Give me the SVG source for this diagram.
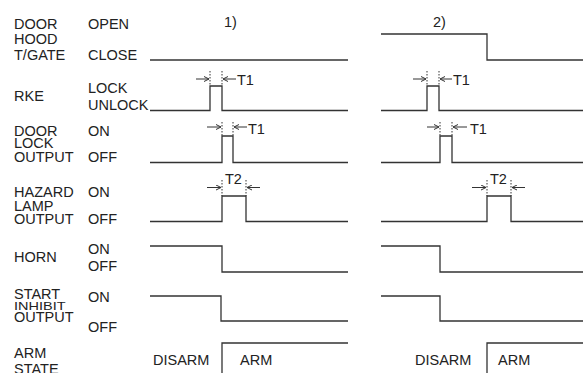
<svg xmlns="http://www.w3.org/2000/svg" width="583" height="373" viewBox="0 0 583 373">
<defs>
<marker id="ah" viewBox="0 0 6 6" refX="5.5" refY="3" markerWidth="6" markerHeight="6" markerUnits="userSpaceOnUse" orient="auto">
<path d="M0.5,0.5 L5.5,3 L0.5,5.5" fill="none" stroke="#333" stroke-width="1"/>
</marker>
<style>
text{font-family:"Liberation Sans",Arial,sans-serif;font-size:14.5px;fill:#222}
.w{fill:none;stroke:#333;stroke-width:1.3}
.d{fill:none;stroke:#333;stroke-width:1;stroke-dasharray:1.5 1.5}
.a{fill:none;stroke:#333;stroke-width:1;marker-end:url(#ah)}
</style>
</defs>
<rect width="583" height="373" fill="#fff"/>
<text x="224" y="27">1)</text>
<text x="433" y="27">2)</text>
<g id="door">
<text x="14" y="29">DOOR</text><text x="14" y="44">HOOD</text><text x="14" y="60">T/GATE</text>
<text x="88" y="29">OPEN</text><text x="88" y="60">CLOSE</text>
</g>
<g id="rke">
<text x="14" y="101">RKE</text>
<text x="88" y="93">LOCK</text><text x="88" y="110">UNLOCK</text>
<text x="237" y="85">T1</text><text x="453" y="85">T1</text>
</g>
<g id="doorlock">
<text x="14" y="136">DOOR</text><text x="14" y="148">LOCK</text><text x="14" y="162">OUTPUT</text>
<text x="88" y="136">ON</text><text x="88" y="162">OFF</text>
<text x="248" y="134">T1</text><text x="470" y="134">T1</text>
</g>
<g id="hazard">
<text x="14" y="197">HAZARD</text><text x="14" y="211">LAMP</text><text x="14" y="224">OUTPUT</text>
<text x="88" y="197">ON</text><text x="88" y="224">OFF</text>
<text x="225" y="184">T2</text><text x="490" y="184">T2</text>
</g>
<g id="horn">
<text x="14" y="262">HORN</text>
<text x="88" y="254">ON</text><text x="88" y="271">OFF</text>
</g>
<g id="startinhibit">
<text x="14" y="299">START</text>
<text transform="translate(14,310) scale(1,0.8)">INHIBIT</text>
<text x="14" y="322">OUTPUT</text>
<text x="88" y="302">ON</text><text x="88" y="332">OFF</text>
</g>
<g id="armstate">
<text x="14" y="358">ARM</text><text x="14" y="373.5">STATE</text>
<text x="153" y="365">DISARM</text><text x="240" y="365">ARM</text>
<text x="415" y="365">DISARM</text><text x="498" y="365">ARM</text>
</g>
<g id="connectors">
<polyline class="w" points="150,60 348,60"/>
<polyline class="w" points="381,34 487,34 487,60 583,60"/>
<polyline class="w" points="150,110.5 210,110.5 210,86 222,86 222,110.5 348,110.5"/>
<polyline class="w" points="381,110.5 427,110.5 427,86 439,86 439,110.5 583,110.5"/>
<polyline class="w" points="150,162.5 222,162.5 222,136 233,136 233,162.5 348,162.5"/>
<polyline class="w" points="381,162.5 440,162.5 440,136 452,136 452,162.5 583,162.5"/>
<polyline class="w" points="150,221.5 222,221.5 222,196 246,196 246,221.5 348,221.5"/>
<polyline class="w" points="381,221.5 487,221.5 487,196 511,196 511,221.5 583,221.5"/>
<polyline class="w" points="150,246 222,246 222,272 348,272"/>
<polyline class="w" points="381,246 440,246 440,272 583,272"/>
<polyline class="w" points="150,296 221,296 221,321 348,321"/>
<polyline class="w" points="381,296 440,296 440,321 583,321"/>
<polyline class="w" points="222,373 222,343 348,343"/>
<polyline class="w" points="487,373 487,343 583,343"/>
<path class="d" d="M210,71V86M222,71V86M427,71V86M439,71V86"/>
<path class="d" d="M222,122V136M233,122V136M440,122V136M452,122V136"/>
<path class="d" d="M222,180V196M246,180V196M487,180V196M511,180V196"/>
<line class="a" x1="196" y1="79" x2="209" y2="79"/><line class="a" x1="236" y1="79" x2="223" y2="79"/>
<line class="a" x1="413" y1="79" x2="426" y2="79"/><line class="a" x1="452" y1="79" x2="440" y2="79"/>
<line class="a" x1="207" y1="127" x2="221" y2="127"/><line class="a" x1="247" y1="127" x2="234" y2="127"/>
<line class="a" x1="427" y1="127" x2="439" y2="127"/><line class="a" x1="467" y1="127" x2="453" y2="127"/>
<line class="a" x1="207" y1="187.5" x2="221" y2="187.5"/><line class="a" x1="260" y1="187.5" x2="247" y2="187.5"/>
<line class="a" x1="472" y1="187.5" x2="486" y2="187.5"/><line class="a" x1="525" y1="187.5" x2="512" y2="187.5"/>
</g>
</svg>
